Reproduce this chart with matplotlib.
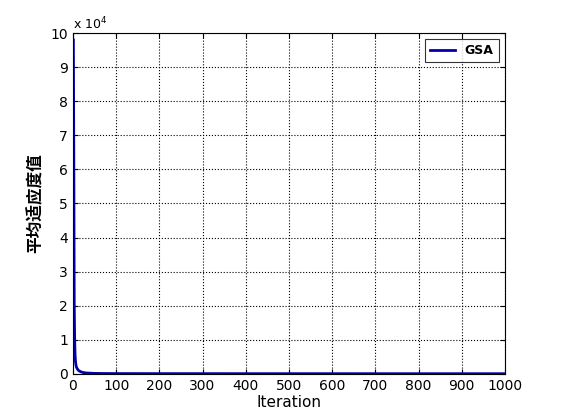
import matplotlib
matplotlib.use("Agg")
import matplotlib.pyplot as plt

# ================= DATA =================
iterations = [1, 2, 3, 4, 5, 6, 7, 8, 10, 12, 15, 20, 25, 30, 40, 50, 70, 100, 200, 400, 600, 800, 1000]
fitness = [98000, 65000, 21000, 10000, 5500, 3500, 2600, 2000, 1500, 1100, 800, 500, 350, 250, 180, 120, 90, 70, 50, 40, 35, 30, 30]
x_ticks = [0, 100, 200, 300, 400, 500, 600, 700, 800, 900, 1000]
y_ticks = [0, 1, 2, 3, 4, 5, 6, 7, 8, 9, 10]

# ================= PLOT =================
plt.rcParams['font.family'] = ['DejaVu Sans', 'Noto Sans CJK SC']
fig = plt.figure(figsize=(5.61, 4.2), dpi=100)
ax = fig.add_axes([0.130, 0.110, 0.770, 0.811])

ax.plot(iterations, [v / 1e4 for v in fitness], color="#0000b0", linewidth=2, label="GSA")
ax.set_xlim(0, 1000)
ax.set_ylim(0, 10)
ax.set_xticks(x_ticks)
ax.set_yticks(y_ticks)
ax.tick_params(direction="in", labelsize=10, top=True, right=True)
ax.grid(True, linestyle=":", color="black", linewidth=0.8)
ax.text(0, 1.01, r"x 10$^4$", transform=ax.transAxes, fontsize=9)
ax.set_xlabel("Iteration", fontsize=11, labelpad=2)
ax.set_ylabel("平均适应度值", fontsize=12, fontweight="bold", family=["Noto Sans CJK SC"])
leg = ax.legend(loc="upper right", fancybox=False, edgecolor="black", prop={"weight": "bold", "size": 9})
leg.get_frame().set_linewidth(0.8)

fig.savefig("out.png", dpi=100)
